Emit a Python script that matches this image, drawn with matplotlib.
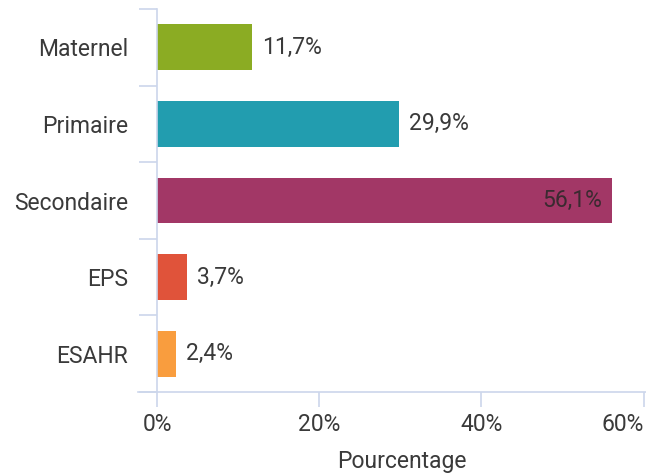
import matplotlib.pyplot as plt
from matplotlib.ticker import FixedLocator

plt.rcParams['font.family'] = ['Roboto', 'DejaVu Sans']

categories = ['Maternel', 'Primaire', 'Secondaire', 'EPS', 'ESAHR']
values = [11.7, 29.9, 56.1, 3.7, 2.4]
labels = ['11,7%', '29,9%', '56,1%', '3,7%', '2,4%']
colors = ['#8BAC23', '#229DAF', '#A23766', '#E0533A', '#F99D3E']
xticks = [0, 20, 40, 60]
xtick_labels = ['0%', '20%', '40%', '60%']

AXIS_COLOR = '#CCD6EB'
TEXT_COLOR = '#3a3a3a'
FS = 16.5

fig = plt.figure(figsize=(6.46, 4.75), dpi=100)
ax = fig.add_axes([157 / 646, 1 - 392 / 475, 1 - 157 / 646, (392 - 9) / 475])

ypos = list(range(len(categories)))
ax.barh(ypos, values, height=0.6, color=colors)
ax.set_ylim(len(categories) - 0.5, -0.5)
ax.set_xlim(0, 60.3)

for y, v, lab in zip(ypos, values, labels):
    if v > 50:
        ax.text(v - 1.2, y, lab, ha='right', va='center', fontsize=FS, color='#3a2a30')
    else:
        ax.text(v + 1.2, y, lab, ha='left', va='center', fontsize=FS, color=TEXT_COLOR)

ax.set_yticks(ypos)
ax.set_yticklabels(categories)
ax.yaxis.set_minor_locator(FixedLocator([i - 0.5 for i in range(len(categories) + 1)]))
ax.tick_params(axis='y', which='major', length=0, pad=21, labelsize=FS, labelcolor=TEXT_COLOR)
ax.tick_params(axis='y', which='minor', length=13, width=1.2, color=AXIS_COLOR)

ax.set_xticks(xticks)
ax.set_xticklabels(xtick_labels)
ax.tick_params(axis='x', length=11, width=1.2, color=AXIS_COLOR, labelsize=FS,
               labelcolor=TEXT_COLOR, pad=4)
ax.get_xticklabels()[-1].set_ha('right')
ax.set_xlabel('Pourcentage', fontsize=FS, color=TEXT_COLOR, labelpad=10)

for s in ['top', 'right']:
    ax.spines[s].set_visible(False)
for s in ['left', 'bottom']:
    ax.spines[s].set_color(AXIS_COLOR)
    ax.spines[s].set_linewidth(1.2)
ax.spines['bottom'].set_bounds(-2.3, 60.3)
ax.spines['bottom'].set_clip_on(False)

fig.savefig('out.png', dpi=100)
